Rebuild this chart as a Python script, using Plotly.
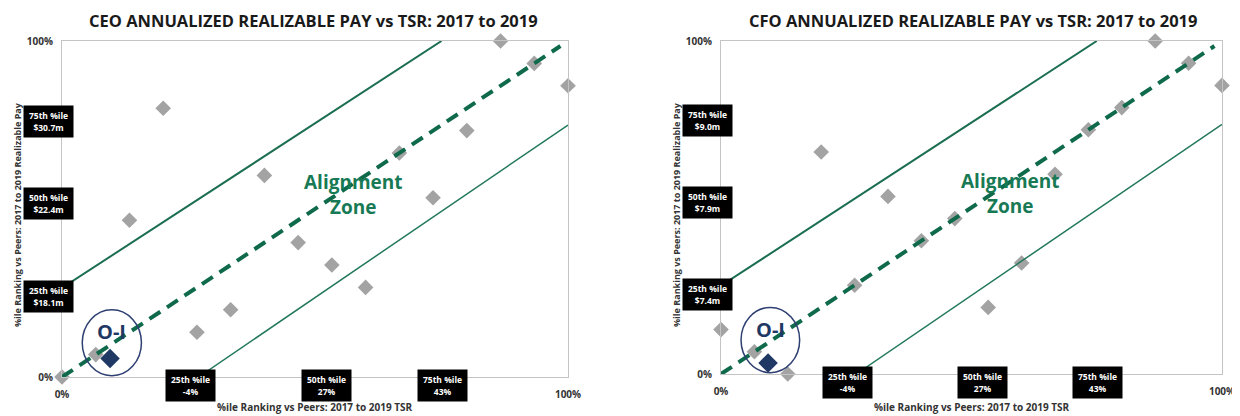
import plotly.graph_objects as go
from plotly.subplots import make_subplots

# --- Data (percentile ranks, 0..1) ---
ceo_tsr_rank = [0.0, 0.0667, 0.1333, 0.2, 0.2667, 0.3333, 0.4, 0.4667,
                0.5333, 0.6, 0.6667, 0.7333, 0.8, 0.8667, 0.9333, 1.0]
ceo_pay_rank = [0.0, 0.0667, 0.4667, 0.8, 0.1333, 0.2, 0.6, 0.4,
                0.3333, 0.2667, 0.6667, 0.5333, 0.7333, 1.0, 0.9333, 0.8667]
ceo_oi = (0.095, 0.055)

cfo_tsr_rank = [0.0, 0.0667, 0.1333, 0.2, 0.2667, 0.3333, 0.4, 0.4667,
                0.5333, 0.6, 0.6667, 0.7333, 0.8, 0.8667, 0.9333, 1.0]
cfo_pay_rank = [0.1333, 0.0667, 0.0, 0.6667, 0.2667, 0.5333, 0.4, 0.4667,
                0.2, 0.3333, 0.6, 0.7333, 0.8, 1.0, 0.9333, 0.8667]
cfo_oi = (0.094, 0.033)

# alignment zone boundaries
upper_x = [0.0, 0.75]
upper_y = [0.265, 1.0]
lower_x = [0.27, 1.0]
lower_y = [0.0, 0.75]
diag_x = [0.0, 0.985]
diag_y = [0.0, 0.985]

ceo_pay_labels = ["25th %ile<br>$18.1m", "50th %ile<br>$22.4m", "75th %ile<br>$30.7m"]
cfo_pay_labels = ["25th %ile<br>$7.4m", "50th %ile<br>$7.9m", "75th %ile<br>$9.0m"]
tsr_labels = ["25th %ile<br>-4%", "50th %ile<br>27%", "75th %ile<br>43%"]
pay_label_pos = [0.24, 0.515, 0.76]
tsr_label_pos = [0.253, 0.522, 0.752]

titles = ["CEO ANNUALIZED REALIZABLE PAY vs TSR: 2017 to 2019",
          "CFO ANNUALIZED REALIZABLE PAY vs TSR: 2017 to 2019"]

GREEN = "#1b6e50"
DGREEN = "#0f6a4b"
GRAY = "#a3a3a3"
NAVY = "#1f3864"
FONT = "Open Sans"

# page has an 8px body margin, so the figure is a bit smaller than the window
W, H, OFF = 1232, 408, 8


def px(x):
    return (x - OFF) / W


def py(y):
    return 1 - (y - OFF) / H


fig = make_subplots(rows=1, cols=2)

panels = [
    (ceo_tsr_rank, ceo_pay_rank, ceo_oi, ceo_pay_labels),
    (cfo_tsr_rank, cfo_pay_rank, cfo_oi, cfo_pay_labels),
]

for i, (xs, ys, oi, pay_labels) in enumerate(panels, 1):
    xa = "x" if i == 1 else "x2"
    ya = "y" if i == 1 else "y2"
    fig.add_trace(go.Scatter(x=xs, y=ys, mode="markers",
                             marker=dict(symbol="diamond", size=12, color=GRAY),
                             cliponaxis=False, showlegend=False), row=1, col=i)
    fig.add_trace(go.Scatter(x=upper_x, y=upper_y, mode="lines",
                             line=dict(color=GREEN, width=2),
                             showlegend=False), row=1, col=i)
    fig.add_trace(go.Scatter(x=lower_x, y=lower_y, mode="lines",
                             line=dict(color="#22785a", width=1.5),
                             showlegend=False), row=1, col=i)
    fig.add_trace(go.Scatter(x=diag_x, y=diag_y, mode="lines",
                             line=dict(color=DGREEN, width=4, dash="13px,8px"),
                             showlegend=False), row=1, col=i)
    fig.add_trace(go.Scatter(x=[oi[0]], y=[oi[1]], mode="markers",
                             marker=dict(symbol="diamond", size=15, color=NAVY),
                             cliponaxis=False, showlegend=False), row=1, col=i)

    # O-I circle
    fig.add_shape(type="circle", xref=xa, yref=ya, x0=0.04, x1=0.157, y0=0.004, y1=0.2,
                  line=dict(color="#2e3f72", width=1.5))
    fig.add_annotation(x=0.098, y=0.135, xref=xa, yref=ya, text="<b>O-I</b>",
                       showarrow=False, font=dict(family=FONT, size=20, color=NAVY))

    fig.add_annotation(x=0.577, y=0.543, xref=xa, yref=ya,
                       text="<b>Alignment<br>Zone</b>", showarrow=False,
                       font=dict(family=FONT, size=19, color="#177a55"))

    for txt, yp in zip(pay_labels, pay_label_pos):
        fig.add_annotation(x=-0.026, y=yp, xref=xa + " domain", yref=ya + " domain",
                           text="<b>" + txt + "</b>", xanchor="center", yanchor="middle",
                           align="center", showarrow=False, bgcolor="black",
                           width=47, height=29,
                           font=dict(family=FONT, size=8.5, color="white"))
    for txt, xp in zip(tsr_labels, tsr_label_pos):
        fig.add_annotation(x=xp, y=-0.025, xref=xa + " domain", yref=ya + " domain",
                           text="<b>" + txt + "</b>", xanchor="center", yanchor="middle",
                           align="center", showarrow=False, bgcolor="black",
                           width=47, height=29,
                           font=dict(family=FONT, size=8.5, color="white"))

axis_common = dict(range=[0, 1], tickvals=[0, 1], ticktext=["<b>0%</b>", "<b>100%</b>"],
                   showgrid=False, zeroline=False, showline=True, linecolor="#c4c4c4",
                   linewidth=1, mirror=True, ticks="", automargin=False,
                   tickfont=dict(family=FONT, size=10, color="#333333"))

fig.update_xaxes(**axis_common, ticklabelstandoff=8)
fig.update_yaxes(**axis_common, ticklabelstandoff=6)
fig.update_layout(
    xaxis=dict(domain=[px(62), px(568)]),
    xaxis2=dict(domain=[px(721), px(1222)]),
    yaxis=dict(domain=[py(377), py(41)]),
    yaxis2=dict(domain=[py(374), py(41)]),
    width=W, height=H,
    margin=dict(l=0, r=0, t=0, b=0),
    plot_bgcolor="white", paper_bgcolor="white",
)

for cx, title in zip([313, 973], titles):
    fig.add_annotation(x=px(cx), y=py(20), xref="paper", yref="paper",
                       xanchor="center", yanchor="middle",
                       text="<b>" + title + "</b>", showarrow=False,
                       font=dict(family=FONT, size=16.5, color="#1a1a1a"))

for cx in [17, 676]:
    fig.add_annotation(x=px(cx), y=py(215), xref="paper", yref="paper",
                       xanchor="center", yanchor="middle",
                       text="<b>%ile Ranking vs Peers: 2017 to 2019 Realizable Pay</b>",
                       textangle=-90, showarrow=False,
                       font=dict(family=FONT, size=9, color="#333333"))
for cx in [315, 972]:
    fig.add_annotation(x=px(cx), y=py(407), xref="paper", yref="paper",
                       xanchor="center", yanchor="middle",
                       text="<b>%ile Ranking vs Peers: 2017 to 2019 TSR</b>",
                       showarrow=False,
                       font=dict(family=FONT, size=10, color="#333333"))

fig.write_html("out.html")
